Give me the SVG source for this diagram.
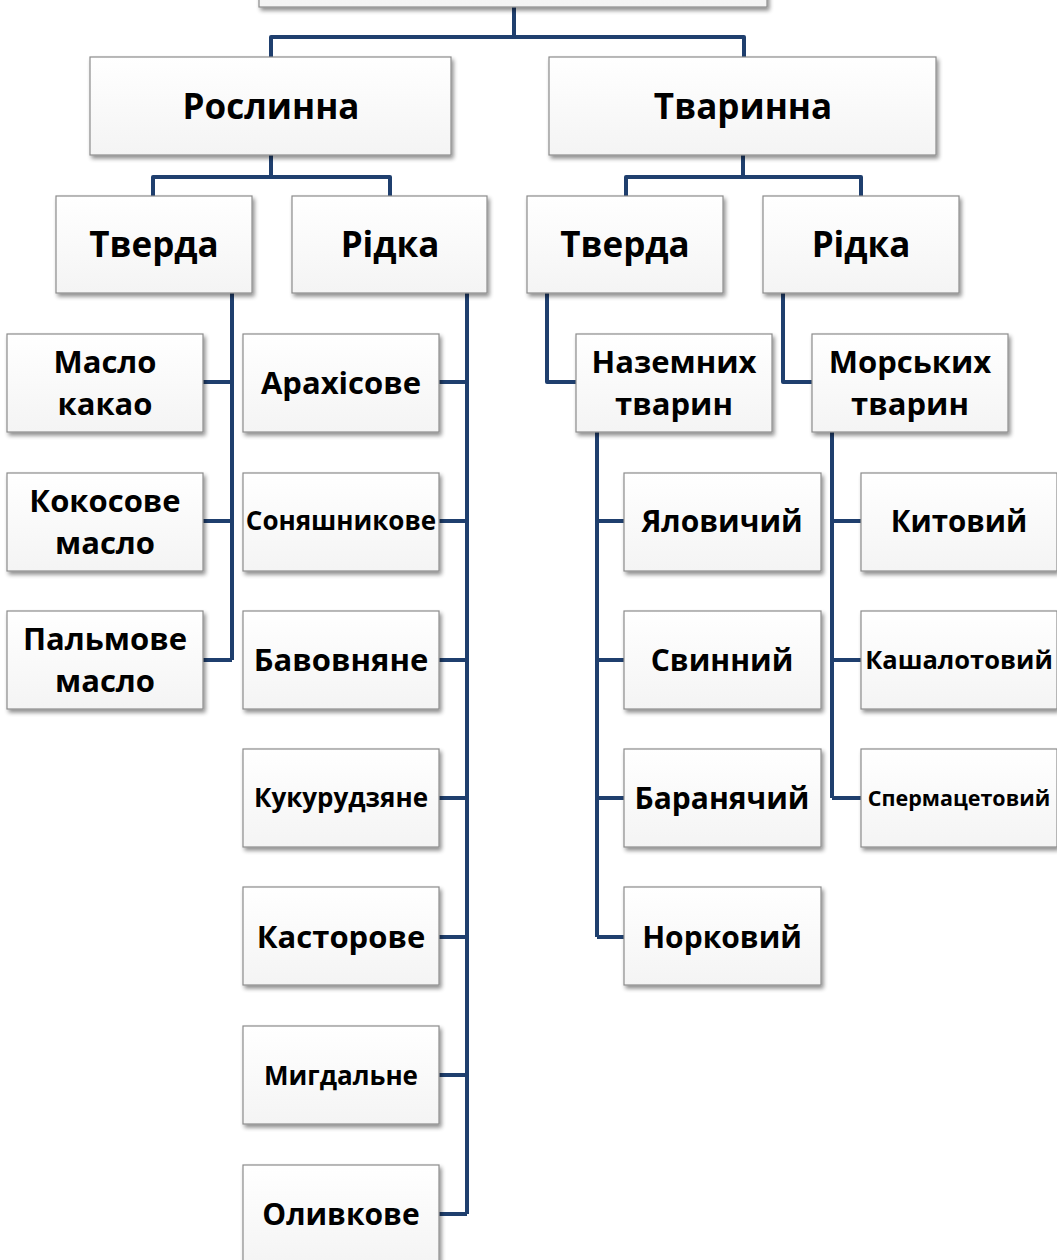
<svg xmlns="http://www.w3.org/2000/svg" width="1057" height="1260" viewBox="0 0 1057 1260">
<defs>
<linearGradient id="g" x1="0" y1="0" x2="0" y2="1">
<stop offset="0" stop-color="#ffffff"/>
<stop offset="1" stop-color="#f4f4f4"/>
</linearGradient>
<filter id="sh" x="-10%" y="-10%" width="125%" height="130%">
<feGaussianBlur in="SourceAlpha" stdDeviation="2"/>
<feOffset dx="2" dy="3" result="o"/>
<feComponentTransfer><feFuncA type="linear" slope="0.45"/></feComponentTransfer>
<feMerge><feMergeNode/><feMergeNode in="SourceGraphic"/></feMerge>
</filter>
</defs>
<style>
.b{fill:url(#g);stroke:#8c8c8c;stroke-width:1.2;filter:url(#sh)}
.t{font-family:"Open Sans","Noto Sans",sans-serif;font-weight:bold;fill:#000;text-anchor:middle}
.c{fill:none;stroke:#1f3f6e;stroke-width:4;stroke-linejoin:round}
</style>
<g id="connectors">
<path class="c" d="M514 7V37M271 57V37H744V57"/>
<path class="c" d="M271 155V177M153 196V177H390V196"/>
<path class="c" d="M743 155V177M626 196V177H861V196"/>
<path class="c" d="M232 293V660M203 382H232M203 521H232M203 660H232"/>
<path class="c" d="M467 293V1214M439 382H467M439 521H467M439 660H467M439 798H467M439 937H467M439 1075H467M439 1214H467"/>
<path class="c" d="M547 293V382H576"/>
<path class="c" d="M597 432V937M597 521H624M597 660H624M597 798H624M597 937H624"/>
<path class="c" d="M783 293V382H812"/>
<path class="c" d="M832 432V798M832 521H861M832 660H861M832 798H861"/>
</g>
<g id="root"><rect class="b" x="259" y="-90" width="508" height="97"/></g>
<g id="n-roslynna"><rect class="b" x="90" y="57" width="361" height="98"/><text class="t" x="271" y="119" font-size="35">Рослинна</text></g>
<g id="n-tvarynna"><rect class="b" x="549" y="57" width="387" height="98"/><text class="t" x="743" y="119" font-size="35">Тваринна</text></g>
<g id="n-tverda-l"><rect class="b" x="56" y="196" width="196" height="97"/><text class="t" x="154" y="257" font-size="35">Тверда</text></g>
<g id="n-ridka-l"><rect class="b" x="292" y="196" width="195" height="97"/><text class="t" x="390" y="257" font-size="35">Рідка</text></g>
<g id="n-tverda-r"><rect class="b" x="527" y="196" width="196" height="97"/><text class="t" x="625" y="257" font-size="35">Тверда</text></g>
<g id="n-ridka-r"><rect class="b" x="763" y="196" width="196" height="97"/><text class="t" x="861" y="257" font-size="35">Рідка</text></g>
<g id="n-maslo-kakao"><rect class="b" x="7" y="334" width="196" height="98"/><text class="t" x="105" y="373" font-size="31">Масло</text><text class="t" x="105" y="415" font-size="31">какао</text></g>
<g id="n-kokosove"><rect class="b" x="7" y="473" width="196" height="98"/><text class="t" x="105" y="512" font-size="31">Кокосове</text><text class="t" x="105" y="554" font-size="31">масло</text></g>
<g id="n-palmove"><rect class="b" x="7" y="611" width="196" height="98"/><text class="t" x="105" y="650" font-size="31">Пальмове</text><text class="t" x="105" y="692" font-size="31">масло</text></g>
<g id="n-arakhisove"><rect class="b" x="243" y="334" width="196" height="98"/><text class="t" x="341" y="394" font-size="31">Арахісове</text></g>
<g id="n-soniashnykove"><rect class="b" x="243" y="473" width="196" height="98"/><text class="t" x="341" y="530" font-size="26">Соняшникове</text></g>
<g id="n-bavovniane"><rect class="b" x="243" y="611" width="196" height="98"/><text class="t" x="341" y="671" font-size="31">Бавовняне</text></g>
<g id="n-kukurudziane"><rect class="b" x="243" y="749" width="196" height="98"/><text class="t" x="341" y="807" font-size="26">Кукурудзяне</text></g>
<g id="n-kastorove"><rect class="b" x="243" y="887" width="196" height="98"/><text class="t" x="341" y="948" font-size="31">Касторове</text></g>
<g id="n-myhdalne"><rect class="b" x="243" y="1026" width="196" height="98"/><text class="t" x="341" y="1085" font-size="26">Мигдальне</text></g>
<g id="n-olyvkove"><rect class="b" x="243" y="1165" width="196" height="100"/><text class="t" x="341" y="1225" font-size="30">Оливкове</text></g>
<g id="n-nazemnykh"><rect class="b" x="576" y="334" width="196" height="98"/><text class="t" x="674" y="373" font-size="31">Наземних</text><text class="t" x="674" y="415" font-size="31">тварин</text></g>
<g id="n-morskykh"><rect class="b" x="812" y="334" width="196" height="98"/><text class="t" x="910" y="373" font-size="31">Морських</text><text class="t" x="910" y="415" font-size="31">тварин</text></g>
<g id="n-yalovychyi"><rect class="b" x="624" y="473" width="197" height="98"/><text class="t" x="722" y="532" font-size="30">Яловичий</text></g>
<g id="n-svynnyi"><rect class="b" x="624" y="611" width="197" height="98"/><text class="t" x="722" y="671" font-size="30">Свинний</text></g>
<g id="n-baranyachyi"><rect class="b" x="624" y="749" width="197" height="98"/><text class="t" x="722" y="809" font-size="30">Баранячий</text></g>
<g id="n-norkovyi"><rect class="b" x="624" y="887" width="197" height="98"/><text class="t" x="722" y="948" font-size="30">Норковий</text></g>
<g id="n-kytovyi"><rect class="b" x="861" y="473" width="196" height="98"/><text class="t" x="959" y="532" font-size="29.5">Китовий</text></g>
<g id="n-kashalotovyi"><rect class="b" x="861" y="611" width="196" height="98"/><text class="t" x="959" y="669" font-size="25.5">Кашалотовий</text></g>
<g id="n-spermatsetovyi"><rect class="b" x="861" y="749" width="196" height="98"/><text class="t" x="959" y="806" font-size="21.5">Спермацетовий</text></g>
</svg>
